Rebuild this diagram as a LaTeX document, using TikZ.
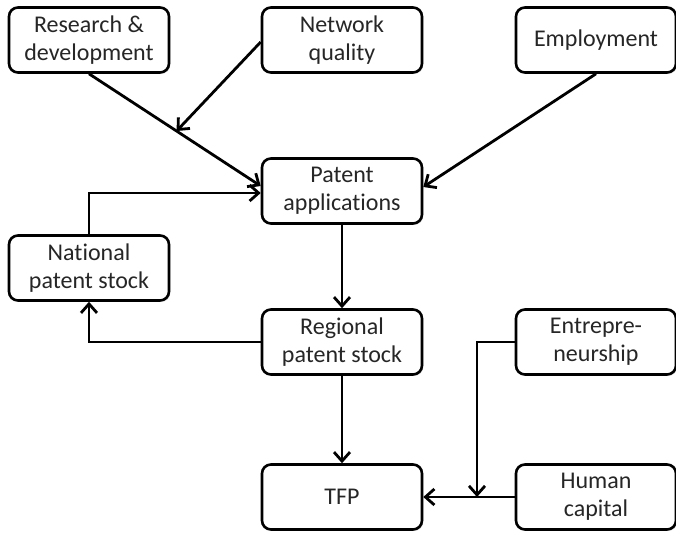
\documentclass[tikz,border=0pt]{standalone}
\usepackage{fontspec}
\setmainfont[Ligatures=NoCommon]{Carlito}
\usepackage{tikz}
\usetikzlibrary{calc}
\usetikzlibrary{arrows.meta}
\usetikzlibrary{shadows}

\tikzset{
  factor/.style={draw=black, line width=1.3pt, rounded corners=4.5pt, fill=white,
    minimum width=80pt, minimum height=32.5pt, align=center, inner sep=2pt,
    text=black!85, font=\fontsize{12}{14}\selectfont,
    drop shadow={opacity=0.2, shadow xshift=0.7pt, shadow yshift=-0.7pt}},
  link/.style={line width=1.4pt, -{Straight Barb[length=4.5pt,width=8pt,line width=1.4pt]}}
}

\begin{document}
\begin{tikzpicture}[x=0.5pt,y=-0.5pt]

    \useasboundingbox (0,0) rectangle (676,535);

    % Place the input factors
    \node[factor] (rd)  at (89,40)  {Research \&\\development};
    \node[factor] (nq)  at (342,40) {Network\\quality};
    \node[factor] (emp) at (596,40) {Employment};

    % Place the patent nodes
    \node[factor] (pa)  at (342,191) {Patent\\applications};
    \node[factor] (nps) at (89,268)  {National\\patent stock};
    \node[factor] (rps) at (342,342) {Regional\\patent stock};

    % Place the other nodes
    \node[factor] (ent) at (596,342) {Entrepre-\\neurship};
    \node[factor] (tfp) at (342,497) {TFP};
    \node[factor] (hc)  at (596,497) {Human\\capital};

    % Draw the arrows into the patent applications
    \draw[link] (rd.south) -- ($(pa.west)+(0,-5)$) coordinate[pos=0.51] (rdmid);
    \draw[link] ($(nq.west)+(0,2)$) -- (rdmid);
    \draw[link] (emp.south) -- ($(pa.east)+(0,-4)$);
    \draw[link] (nps.north) |- ($(pa.west)+(0,2)$);

    % Draw the patent stock arrows
    \draw[link] (pa) -- (rps);
    \draw[link] (rps.west) -| (nps.south);
    \draw[link] (rps) -- (tfp);

    % Draw the arrows into TFP
    \draw[link] (hc.west) -- (tfp.east);
    \coordinate (join) at (477,497);
    \draw[link] (ent.west) -| (join);

\end{tikzpicture}
\end{document}
